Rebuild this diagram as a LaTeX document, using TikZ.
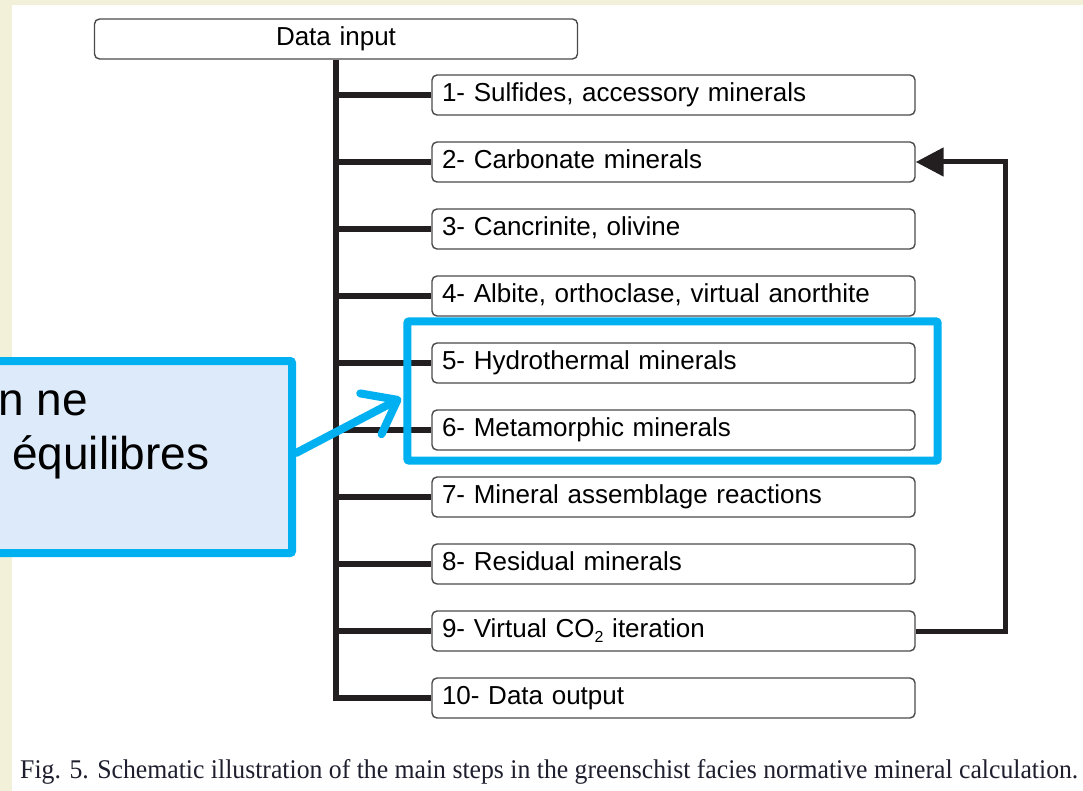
\documentclass[tikz,border=0pt]{standalone}
\usepackage{fontspec}
\usepackage{graphicx}
\usetikzlibrary{arrows.meta,calc}
\newfontfamily\sansf{Liberation Sans}
\newfontfamily\seriff{Liberation Serif}
\definecolor{cream}{HTML}{F3F0DA}
\definecolor{boxgray}{HTML}{4A4A4A}
\definecolor{flowline}{HTML}{231F20}
\definecolor{hlblue}{HTML}{00B0F0}
\definecolor{notefill}{HTML}{DDEAF9}
\definecolor{captext}{HTML}{1E1E2E}
\begin{document}
\begin{tikzpicture}[x=1pt,y=-1pt,
  stepbox/.style={draw=boxgray, line width=1.4pt, rounded corners=5pt,
    minimum width=483pt, minimum height=40pt, text width=463pt,
    inner xsep=10pt, inner ysep=0pt, align=left,
    text height=19pt, text depth=6pt,
    font=\sansf\fontsize{26}{30}\selectfont, fill=white},
  trunk/.style={draw=flowline, line width=5.5pt, line join=miter},
  feedback/.style={draw=flowline, line width=5pt,
    -{Triangle[length=28pt,width=28pt]}},
  highlight/.style={draw=hlblue, line width=8pt, rounded corners=2pt},
  notebox/.style={draw=hlblue, line width=8pt, fill=notefill,
    rounded corners=2pt, minimum width=352pt, minimum height=192pt,
    inner sep=0pt},
  pointer/.style={draw=hlblue, line width=8pt, line cap=round,
    -{Straight Barb[length=30pt,width=46pt,round]}},
  notetext/.style={anchor=base west, inner sep=0pt,
    font=\sansf\fontsize{46}{54}\selectfont}
]
\clip (0,0) rectangle (1083,791);
% page background
\fill[cream] (0,0) rectangle (1083,791);
\fill[white] (12,5) rectangle (1083,791);

% input box and the ten calculation steps
\node[stepbox, align=center] (din) at (336,39) {Data input};
\foreach \i/\t in {
  1/{1- Sulfides, accessory minerals},
  2/{2- Carbonate minerals},
  3/{3- Cancrinite, olivine},
  4/{4- Albite, orthoclase, virtual anorthite},
  5/{5- Hydrothermal minerals},
  6/{6- Metamorphic minerals},
  7/{7- Mineral assemblage reactions},
  8/{8- Residual minerals},
  9/{9- Virtual CO\raisebox{-5pt}{\fontsize{16}{16}\selectfont 2} iteration},
  10/{10- Data output}}
  \node[stepbox] (b\i) at (673.5,{95+67*(\i-1)}) {\t};

% vertical trunk with one branch per step
\foreach \i in {1,...,9}
  \draw[trunk] (din.south |- b\i.west) -- (b\i.west);
\draw[trunk] (din.south) |- (b10.west);

% iteration loop from step 9 back to step 2
\coordinate (loop) at (1005,162);
\draw[feedback] (b9.east) -| (loop) -- (b2.east);

% highlight around steps 5 and 6
\draw[highlight] ($(b5.north west)+(-24,-21)$) rectangle ($(b6.south east)+(22,10)$);

% note box with pointer
\node[notebox] (note) at (116,457) {};
\node[notetext] (l1) at (-2,415) {n ne};
\node[notetext] (l2) at (12,469) {équilibres};
\coordinate (tip) at (401,398);
\draw[pointer] ([yshift=4pt]note.east) -- (tip);

% caption
\node[anchor=base west, inner sep=0pt, text=captext,
  font=\seriff\fontsize{27}{32}\selectfont] (cap) at (20,778)
  {\resizebox{1058pt}{\height}{Fig. 5. Schematic illustration of the main steps in the greenschist facies normative mineral calculation.}};
\end{tikzpicture}
\end{document}
